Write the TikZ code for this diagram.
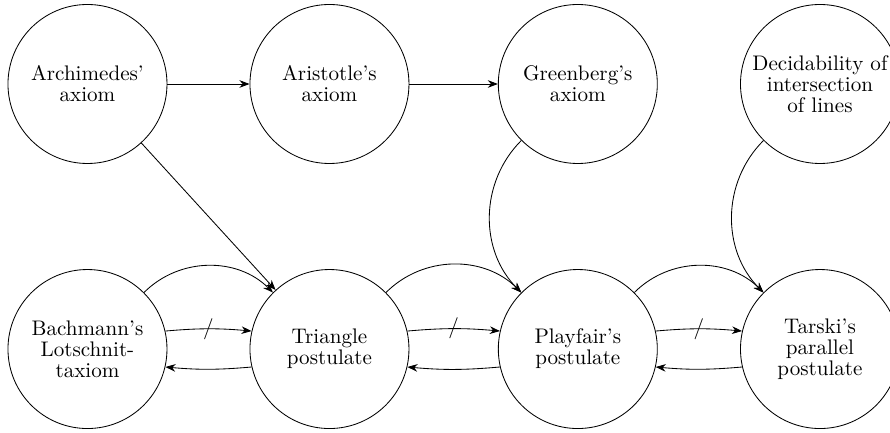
\documentclass[tikz,border=0pt]{standalone}
\usetikzlibrary{automata,arrows.meta}

\begin{document}
\begin{tikzpicture}[>=Stealth,every state/.style={minimum size=2.65cm,align=center,inner sep=1pt,
    font=\fontsize{10}{10}\selectfont}]
  \useasboundingbox (-1.458,-5.8) rectangle (13.375,1.4);
  \node[state] (arch)   at (0,0)           {Archimedes'\\axiom};
  \node[state] (arist)  at (4.033,0)       {Aristotle's\\axiom};
  \node[state] (green)  at (8.172,0)       {Greenberg's\\axiom};
  \node[state] (decid)  at (12.208,0)      {Decidability of\\intersection\\of lines};
  \node[state] (bach)   at (0,-4.417)      {Bachmann's\\Lotschnit-\\taxiom};
  \node[state] (tri)    at (4.033,-4.417)  {Triangle\\postulate};
  \node[state] (play)   at (8.172,-4.417)  {Playfair's\\postulate};
  \node[state] (tarski) at (12.208,-4.417) {Tarski's\\parallel\\postulate};
  \path[->] (arch)  edge (arist)
            (arist) edge (green)
            (arch)  edge (tri)
            (green) edge [bend right=45] (play)
            (decid) edge [bend right=45] (tarski)
            (bach)  edge [bend left=45] (tri)
            (tri)   edge [bend left=45] (play)
            (play)  edge [bend left=45] (tarski)
            % not implied: crossed out
            (bach.13)   edge [bend left=5] node {$/$} (tri.167)
            (tri.13)    edge [bend left=5] node {$/$} (play.167)
            (play.13)   edge [bend left=5] node {$/$} (tarski.167)
            (tri.-167)  edge [bend left=5] (bach.-13)
            (play.-167) edge [bend left=5] (tri.-13)
            (tarski.-167) edge [bend left=5] (play.-13);
\end{tikzpicture}
\end{document}
